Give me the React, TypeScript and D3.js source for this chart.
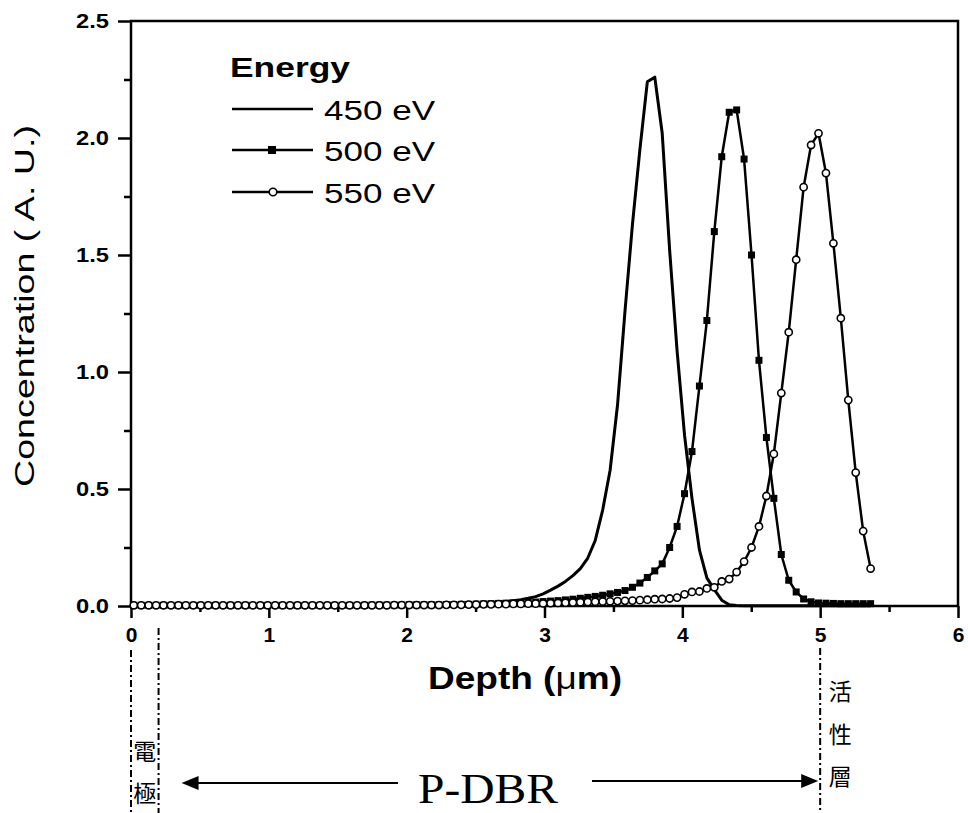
import { useEffect, useRef } from 'react';
import * as d3 from 'd3';

// depth grid (µm)
const depth = [
  0.020, 0.074, 0.128, 0.182, 0.236, 0.290, 0.344, 0.398, 0.452, 0.506,
  0.560, 0.614, 0.668, 0.722, 0.776, 0.830, 0.884, 0.938, 0.992, 1.046,
  1.100, 1.154, 1.208, 1.262, 1.316, 1.370, 1.424, 1.478, 1.532, 1.586,
  1.640, 1.694, 1.748, 1.802, 1.856, 1.910, 1.964, 2.018, 2.072, 2.126,
  2.180, 2.234, 2.288, 2.342, 2.396, 2.450, 2.504, 2.558, 2.612, 2.666,
  2.720, 2.774, 2.828, 2.882, 2.936, 2.990, 3.044, 3.098, 3.152, 3.206,
  3.260, 3.314, 3.368, 3.422, 3.476, 3.530, 3.584, 3.638, 3.692, 3.746,
  3.800, 3.854, 3.908, 3.962, 4.016, 4.070, 4.124, 4.178, 4.232, 4.286,
  4.340, 4.394, 4.448, 4.502, 4.556, 4.610, 4.664, 4.718, 4.772, 4.826,
  4.880, 4.934, 4.988, 5.042, 5.096, 5.150, 5.204, 5.258, 5.312, 5.366,
];

const conc450 = [
  0.002, 0.002, 0.002, 0.002, 0.002, 0.002, 0.002, 0.002, 0.002, 0.002,
  0.002, 0.002, 0.002, 0.002, 0.002, 0.002, 0.002, 0.002, 0.002, 0.002,
  0.003, 0.003, 0.003, 0.003, 0.003, 0.003, 0.003, 0.003, 0.003, 0.003,
  0.003, 0.003, 0.004, 0.004, 0.004, 0.005, 0.005, 0.005, 0.006, 0.006,
  0.006, 0.007, 0.007, 0.008, 0.008, 0.009, 0.010, 0.012, 0.014, 0.016,
  0.019, 0.022, 0.027, 0.033, 0.040, 0.052, 0.068, 0.085, 0.105, 0.130,
  0.160, 0.205, 0.280, 0.410, 0.580, 0.860, 1.260, 1.630, 1.950, 2.240,
  2.260, 2.020, 1.520, 1.090, 0.730, 0.460, 0.240, 0.120, 0.070, 0.025,
  0.005, 0.002, 0.001, 0.001, 0.001, 0.001, 0.001, 0.001, 0.001, 0.001,
  0.001, 0.001, 0.001, 0.001, 0.001, 0.001, 0.001, 0.001, 0.001, 0.001,
];

const conc500 = [
  0.003, 0.003, 0.003, 0.003, 0.003, 0.003, 0.003, 0.003, 0.003, 0.003,
  0.003, 0.003, 0.003, 0.003, 0.003, 0.003, 0.003, 0.003, 0.003, 0.003,
  0.003, 0.003, 0.003, 0.003, 0.003, 0.003, 0.003, 0.003, 0.003, 0.003,
  0.003, 0.003, 0.004, 0.004, 0.004, 0.004, 0.004, 0.005, 0.005, 0.005,
  0.005, 0.005, 0.006, 0.006, 0.007, 0.007, 0.008, 0.009, 0.010, 0.011,
  0.012, 0.013, 0.014, 0.015, 0.017, 0.019, 0.021, 0.023, 0.026, 0.029,
  0.033, 0.037, 0.041, 0.046, 0.052, 0.058, 0.066, 0.080, 0.098, 0.122,
  0.150, 0.180, 0.250, 0.340, 0.480, 0.660, 0.940, 1.220, 1.600, 1.920,
  2.110, 2.120, 1.910, 1.500, 1.050, 0.720, 0.460, 0.220, 0.110, 0.060,
  0.030, 0.018, 0.013, 0.012, 0.011, 0.010, 0.010, 0.010, 0.010, 0.010,
];

const conc550 = [
  0.003, 0.003, 0.003, 0.003, 0.003, 0.003, 0.003, 0.003, 0.003, 0.003,
  0.003, 0.003, 0.003, 0.003, 0.003, 0.003, 0.003, 0.003, 0.003, 0.003,
  0.003, 0.003, 0.003, 0.003, 0.003, 0.003, 0.003, 0.003, 0.003, 0.003,
  0.003, 0.003, 0.003, 0.003, 0.003, 0.004, 0.004, 0.004, 0.004, 0.004,
  0.004, 0.004, 0.005, 0.005, 0.005, 0.006, 0.006, 0.007, 0.007, 0.008,
  0.008, 0.009, 0.009, 0.010, 0.010, 0.011, 0.012, 0.013, 0.014, 0.015,
  0.016, 0.017, 0.018, 0.019, 0.020, 0.021, 0.022, 0.023, 0.025, 0.027,
  0.029, 0.030, 0.032, 0.036, 0.050, 0.060, 0.062, 0.075, 0.080, 0.105,
  0.115, 0.145, 0.190, 0.250, 0.340, 0.470, 0.650, 0.910, 1.170, 1.480,
  1.790, 1.970, 2.020, 1.850, 1.550, 1.230, 0.880, 0.570, 0.320, 0.160,
];

const seriesLabels = ['450 eV', '500 eV', '550 eV'];
const xMajorTicks = [0, 1, 2, 3, 4, 5, 6];
const xMinorTicks = [0.5, 1.5, 2.5, 3.5, 4.5, 5.5];
const yMajorTicks = [0, 0.5, 1, 1.5, 2, 2.5];
const yMinorTicks = [0.25, 0.75, 1.25, 1.75, 2.25];
const electrodeEdges = [0, 0.2];
const activeLayerDepth = 5;

const SANS = '"Liberation Sans", Arial, sans-serif';
const SERIF = '"Liberation Serif", "Times New Roman", serif';
const CJK = '"Noto Sans CJK TC", "Noto Sans CJK SC", sans-serif';

export default function App() {
  const svgRef = useRef<SVGSVGElement>(null);

  useEffect(() => {
    const width = 968;
    const height = 813;
    const svg = d3.select(svgRef.current);
    svg.selectAll('*').remove();
    svg.attr('width', width).attr('height', height);

    svg.append('rect').attr('width', width).attr('height', height).attr('fill', '#fff');

    const x = d3.scaleLinear().domain([0, 6]).range([131, 958]);
    const y = d3.scaleLinear().domain([0, 2.5]).range([606, 21]);

    // frame
    svg.append('rect')
      .attr('x', x(0))
      .attr('y', y(2.5))
      .attr('width', x(6) - x(0))
      .attr('height', y(0) - y(2.5))
      .attr('fill', 'none')
      .attr('stroke', '#000')
      .attr('stroke-width', 2.5);

    // x axis
    const xAxis = svg.append('g')
      .attr('transform', `translate(0,${y(0)})`)
      .call(d3.axisBottom(x).tickValues(xMajorTicks).tickSize(12).tickPadding(9).tickFormat(d3.format('d')));
    xAxis.select('.domain').remove();
    xAxis.selectAll('line').attr('stroke-width', 2.5);
    xAxis.selectAll('text')
      .attr('font-family', SANS)
      .attr('font-size', 21)
      .attr('font-weight', 'bold')
      .attr('fill', '#000');

    const xMinor = svg.append('g')
      .attr('transform', `translate(0,${y(0)})`)
      .call(d3.axisBottom(x).tickValues(xMinorTicks).tickSize(6).tickFormat(() => ''));
    xMinor.select('.domain').remove();
    xMinor.selectAll('line').attr('stroke-width', 2.5);

    // y axis
    const yAxis = svg.append('g')
      .attr('transform', `translate(${x(0)},0)`)
      .call(d3.axisLeft(y).tickValues(yMajorTicks).tickSize(13).tickPadding(9).tickFormat(d3.format('.1f')));
    yAxis.select('.domain').remove();
    yAxis.selectAll('line').attr('stroke-width', 2.5);
    yAxis.selectAll('text')
      .attr('font-family', SANS)
      .attr('font-size', 20)
      .attr('font-weight', 'bold')
      .attr('fill', '#000')
      .attr('textLength', 33)
      .attr('lengthAdjust', 'spacingAndGlyphs');

    const yMinor = svg.append('g')
      .attr('transform', `translate(${x(0)},0)`)
      .call(d3.axisLeft(y).tickValues(yMinorTicks).tickSize(7).tickFormat(() => ''));
    yMinor.select('.domain').remove();
    yMinor.selectAll('line').attr('stroke-width', 2.5);

    // axis titles
    svg.append('text')
      .attr('transform', `translate(25,306) rotate(-90)`)
      .attr('text-anchor', 'middle')
      .attr('dominant-baseline', 'central')
      .attr('font-family', SANS)
      .attr('font-size', 27)
      .attr('textLength', 362)
      .attr('lengthAdjust', 'spacingAndGlyphs')
      .text('Concentration ( A. U.)');

    const xTitle = svg.append('text')
      .attr('x', 428)
      .attr('y', 689)
      .attr('font-family', SANS)
      .attr('font-size', 32)
      .attr('font-weight', 'bold')
      .attr('textLength', 194)
      .attr('lengthAdjust', 'spacingAndGlyphs');
    xTitle.append('tspan').text('Depth (');
    xTitle.append('tspan').attr('font-weight', 'normal').text('\u03bc');
    xTitle.append('tspan').text('m)');

    // series
    const pts = (vals: number[]) => depth.map((d, i) => [d, vals[i]] as [number, number]);
    const line = d3.line<[number, number]>().x(d => x(d[0])).y(d => y(d[1]));

    const data450 = pts(conc450);
    const data500 = pts(conc500);
    const data550 = pts(conc550);

    svg.append('path').datum(data450)
      .attr('fill', 'none').attr('stroke', '#000').attr('stroke-width', 3)
      .attr('stroke-linejoin', 'round').attr('d', line);

    svg.append('path').datum(data500)
      .attr('fill', 'none').attr('stroke', '#000').attr('stroke-width', 2.5)
      .attr('stroke-linejoin', 'round').attr('d', line);
    svg.selectAll('.sq')
      .data(data500)
      .join('rect')
      .attr('class', 'sq')
      .attr('x', d => x(d[0]) - 3.5)
      .attr('y', d => y(d[1]) - 3.5)
      .attr('width', 7)
      .attr('height', 7)
      .attr('fill', '#000');

    svg.append('path').datum(data550)
      .attr('fill', 'none').attr('stroke', '#000').attr('stroke-width', 2.5)
      .attr('stroke-linejoin', 'round').attr('d', line);
    svg.selectAll('.ci')
      .data(data550)
      .join('circle')
      .attr('class', 'ci')
      .attr('cx', d => x(d[0]))
      .attr('cy', d => y(d[1]))
      .attr('r', 3.6)
      .attr('fill', '#fff')
      .attr('stroke', '#000')
      .attr('stroke-width', 1.6);

    // legend
    const legend = svg.append('g');
    legend.append('text')
      .attr('x', 230).attr('y', 77)
      .attr('font-family', SANS).attr('font-size', 28).attr('font-weight', 'bold')
      .attr('textLength', 120).attr('lengthAdjust', 'spacingAndGlyphs')
      .text('Energy');
    const rowLine = [109, 150, 192];
    seriesLabels.forEach((label, i) => {
      const ly = rowLine[i];
      legend.append('line')
        .attr('x1', 232).attr('x2', 313).attr('y1', ly).attr('y2', ly)
        .attr('stroke', '#000').attr('stroke-width', 2.5);
      if (i === 1) {
        legend.append('rect').attr('x', 268).attr('y', ly - 4).attr('width', 8).attr('height', 8).attr('fill', '#000');
      }
      if (i === 2) {
        legend.append('circle').attr('cx', 273).attr('cy', ly).attr('r', 3.8)
          .attr('fill', '#fff').attr('stroke', '#000').attr('stroke-width', 1.6);
      }
      legend.append('text')
        .attr('x', 324).attr('y', ly + 11)
        .attr('font-family', SANS).attr('font-size', 28)
        .attr('textLength', 111).attr('lengthAdjust', 'spacingAndGlyphs')
        .text(label);
    });

    // layer annotations below the axis
    const dashDot = '7,3,2,3';
    svg.append('line')
      .attr('x1', x(electrodeEdges[0])).attr('x2', x(electrodeEdges[0]))
      .attr('y1', 650).attr('y2', 813)
      .attr('stroke', '#000').attr('stroke-width', 2).attr('stroke-dasharray', dashDot);
    svg.append('line')
      .attr('x1', x(electrodeEdges[1])).attr('x2', x(electrodeEdges[1]))
      .attr('y1', 628).attr('y2', 813)
      .attr('stroke', '#000').attr('stroke-width', 2).attr('stroke-dasharray', dashDot);
    svg.append('line')
      .attr('x1', x(activeLayerDepth)).attr('x2', x(activeLayerDepth))
      .attr('y1', 648).attr('y2', 813)
      .attr('stroke', '#000').attr('stroke-width', 2).attr('stroke-dasharray', dashDot);

    const cjkText = (chars: string[], cx: number, cy0: number, step: number) => {
      chars.forEach((c, i) => {
        svg.append('text')
          .attr('x', cx).attr('y', cy0 + i * step)
          .attr('text-anchor', 'middle')
          .attr('dominant-baseline', 'central')
          .attr('font-family', CJK)
          .attr('font-size', 23)
          .text(c);
      });
    };
    cjkText(['電', '極'], (x(electrodeEdges[0]) + x(electrodeEdges[1])) / 2, 750, 42);
    cjkText(['活', '性', '層'], x(activeLayerDepth) + 20, 690, 42.5);

    // P-DBR arrows
    const leftTip = x(electrodeEdges[1]) + 23;
    const rightTip = x(activeLayerDepth) - 2;
    svg.append('line').attr('x1', leftTip + 10).attr('x2', 398).attr('y1', 783).attr('y2', 783)
      .attr('stroke', '#000').attr('stroke-width', 2);
    svg.append('path')
      .attr('d', `M${leftTip},783 L${leftTip + 17},776 L${leftTip + 17},790 Z`)
      .attr('fill', '#000');
    svg.append('line').attr('x1', 592).attr('x2', rightTip - 10).attr('y1', 781).attr('y2', 781)
      .attr('stroke', '#000').attr('stroke-width', 2);
    svg.append('path')
      .attr('d', `M${rightTip},781 L${rightTip - 17},774 L${rightTip - 17},788 Z`)
      .attr('fill', '#000');
    svg.append('text')
      .attr('x', 418).attr('y', 803)
      .attr('font-family', SERIF).attr('font-size', 42)
      .attr('textLength', 140).attr('lengthAdjust', 'spacingAndGlyphs')
      .text('P-DBR');
  }, []);

  return (
    <svg ref={svgRef} style={{ position: 'absolute', left: 0, top: 0, display: 'block' }} />
  );
}
